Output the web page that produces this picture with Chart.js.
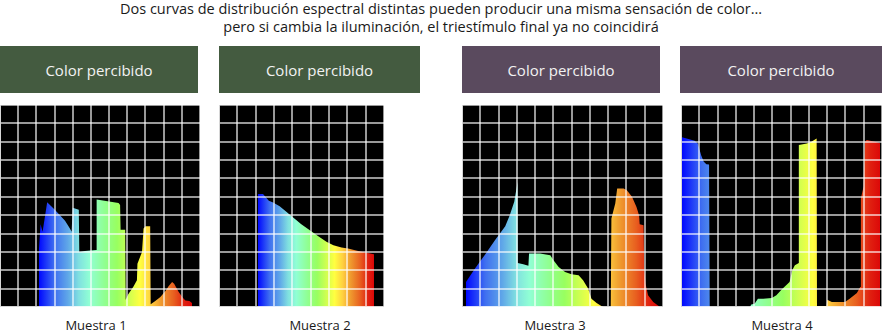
<!DOCTYPE html>
<html lang="es">
<head>
<meta charset="utf-8">
<title>Metamerismo</title>
<script src="https://cdn.jsdelivr.net/npm/chart.js@4.4.1/dist/chart.umd.min.js"></script>
<style>
  body { margin: 0; background: #fff; font-family: "Open Sans", sans-serif; }
  #lienzo { position: relative; width: 882px; height: 335px; overflow: hidden; }
  .titulo { position: absolute; left: 0; width: 882px; top: 0; text-align: center; font-size: 14.5px; line-height: 18px; color: #1a1a1a; }
  .caja { position: absolute; top: 46px; height: 47px; color: #f2f2f2; font-size: 15px; display: flex; align-items: center; justify-content: center; }
  .verde { background: #445b40; }
  .morado { background: #5a4a5e; }
  .grafico { position: absolute; top: 104px; }
  .muestra { position: absolute; top: 316px; width: 140px; margin-left: -70px; text-align: center; font-size: 13px; color: #1a1a1a; }
</style>
</head>
<body>
<div id="lienzo">
  <div class="titulo">Dos curvas de distribución espectral distintas pueden producir una misma sensación de color…<br>pero si cambia la iluminación, el triestímulo final ya no coincidirá</div>

  <div class="caja verde" style="left:0; width:198px">Color percibido</div>
  <div class="caja verde" style="left:219px; width:201px">Color percibido</div>
  <div class="caja morado" style="left:462px; width:198px">Color percibido</div>
  <div class="caja morado" style="left:680px; width:202px">Color percibido</div>

  <canvas id="g1" class="grafico" style="left:-1px" width="202" height="204"></canvas>
  <canvas id="g2" class="grafico" style="left:218px" width="167" height="204"></canvas>
  <canvas id="g3" class="grafico" style="left:461px" width="203" height="204"></canvas>
  <canvas id="g4" class="grafico" style="left:680px" width="203" height="204"></canvas>

  <div class="muestra" style="left:96px">Muestra 1</div>
  <div class="muestra" style="left:320px">Muestra 2</div>
  <div class="muestra" style="left:555px">Muestra 3</div>
  <div class="muestra" style="left:782px">Muestra 4</div>
</div>

<script>
// longitud de onda (nm) y potencia relativa de cada muestra
const nmMuestra1 = [400, 400, 403, 407, 416, 431, 441, 451, 460, 464, 466, 478, 479, 490, 512, 513, 556, 559, 560, 569, 570, 575, 585, 592, 593, 602, 605, 609, 618, 619, 628, 638, 648, 654, 661, 665, 674, 682, 687, 695, 700, 700];
const potMuestra1 = [0, 32, 45, 41, 57, 53, 50, 47, 43, 41, 54, 53, 30, 30.5, 31, 58.5, 56.7, 55.5, 42, 42, 4, 7, 11, 14.5, 23.5, 30, 42.7, 44, 44, 1.5, 3.3, 5.5, 8.7, 11.3, 13.6, 12.7, 8.2, 5.1, 3.6, 3.3, 2.2, 0];

const nmMuestra2 = [400, 400, 413, 419, 428, 439, 456, 474, 491, 512, 534, 556, 577, 595, 616, 633, 659, 681, 700, 700];
const potMuestra2 = [0, 61.5, 61.5, 60, 57.8, 56.9, 54.9, 51.8, 48.7, 45.1, 41.8, 38.5, 35.5, 33.6, 32.4, 31.8, 30.5, 29.5, 28.7, 0];

const nmMuestra3 = [400, 400, 414, 430, 445, 461, 468, 475, 479, 480, 480.5, 489, 497, 498, 515, 531, 536, 544, 554, 564, 575, 582, 590, 595, 603, 611, 614, 625, 626, 632, 635, 645, 650, 658, 665, 669, 670, 676, 677, 679, 683, 691, 700, 700];
const potMuestra3 = [0, 13.6, 20.9, 28.7, 36.4, 44, 50, 57.3, 65.5, 68.2, 24, 23.3, 22.4, 29.1, 29.1, 28.2, 25.5, 21.8, 19.1, 17.8, 17.3, 14.5, 10, 4.5, 2.2, 0.4, 0, 0, 48.2, 56.4, 64.5, 64.5, 63.6, 60, 54.5, 50, 45.1, 44.5, 21.8, 12.7, 6.4, 2.7, 0.4, 0];

const nmMuestra4 = [400, 400, 407, 419, 424, 429, 433, 437, 441, 442, 442, 503, 505, 510, 515, 523, 536, 543, 551, 563, 567, 571, 577, 577, 589, 596, 604, 604.5, 619, 620, 627, 647, 654, 665, 670, 671, 675, 677, 680, 692, 698, 700, 700];
const potMuestra4 = [0, 92.4, 91.8, 90.5, 89.1, 82.7, 79.1, 77.8, 77.6, 77.6, 0, 0, 1.3, 1.8, 4.5, 4.5, 4.9, 6.4, 9.5, 13.6, 20, 22.7, 24, 88.2, 89.1, 90, 91.8, 0.6, 0.6, 4, 2.7, 2.7, 4.5, 7.6, 10.9, 59.1, 65.5, 90, 90.9, 90, 89.5, 89.1, 0];

// colores del espectro visible, de 400 a 700 nm
const paradasEspectro = [0, 0.1, 0.19, 0.26, 0.33, 0.43, 0.51, 0.59, 0.66, 0.73, 0.79, 0.88, 0.95, 1];
const coloresEspectro = ['#0008ff', '#3f6ff0', '#60a8e8', '#80e0e0', '#90ffd4', '#90ff90', '#98ff60', '#d0ff50', '#ffff40', '#ffd040', '#f0a030', '#e86020', '#e02010', '#dc0808'];

const colorRejilla = 'rgba(255,255,255,0.6)';

// cada panel: rango del eje x (nm) y número de columnas de la rejilla
const paneles = [
  { id: 'g1', nm: nmMuestra1, pot: potMuestra1, min: 323.5, max: 715.7, columnas: 11 },
  { id: 'g2', nm: nmMuestra2, pot: potMuestra2, min: 299.1, max: 725.9, columnas: 9 },
  { id: 'g3', nm: nmMuestra3, pot: potMuestra3, min: 393.8, max: 706.2, columnas: 11 },
  { id: 'g4', nm: nmMuestra4, pot: potMuestra4, min: 398.5, max: 703.0, columnas: 11 }
];

function rellenoEspectral(context) {
  const { ctx, chartArea, scales } = context.chart;
  if (!chartArea) return null;
  const x0 = scales.x.getPixelForValue(400);
  const x1 = scales.x.getPixelForValue(700);
  const g = ctx.createLinearGradient(x0, 0, x1, 0);
  paradasEspectro.forEach((p, i) => g.addColorStop(p, coloresEspectro[i]));
  return g;
}

const fondoNegro = {
  id: 'fondoNegro',
  beforeDraw(chart) {
    const { ctx, chartArea: a } = chart;
    ctx.save();
    ctx.fillStyle = '#000';
    ctx.fillRect(a.left, a.top, a.right - a.left, a.bottom - a.top);
    ctx.restore();
  }
};

paneles.forEach(p => {
  new Chart(document.getElementById(p.id), {
    type: 'line',
    data: {
      datasets: [{
        data: p.nm.map((x, i) => ({ x: x, y: p.pot[i] })),
        fill: 'origin',
        backgroundColor: rellenoEspectral,
        borderWidth: 0,
        pointRadius: 0,
        tension: 0
      }]
    },
    options: {
      responsive: false,
      animation: false,
      events: [],
      layout: { padding: 1 },
      plugins: { legend: { display: false }, tooltip: { enabled: false } },
      scales: {
        x: {
          type: 'linear',
          bounds: 'data',
          min: p.min,
          max: p.max,
          afterBuildTicks: scale => {
            const paso = (p.max - p.min) / p.columnas;
            scale.ticks = Array.from({ length: p.columnas + 1 }, (_, i) => ({ value: p.min + i * paso }));
          },
          ticks: { display: false },
          grid: { color: colorRejilla, lineWidth: 2, drawTicks: false, tickLength: 0, z: 1 },
          border: { display: true, color: colorRejilla, width: 2, z: 1 }
        },
        y: {
          min: 0,
          max: 110,
          ticks: { display: false, stepSize: 10 },
          grid: { color: colorRejilla, lineWidth: 2, drawTicks: false, tickLength: 0, z: 1 },
          border: { display: true, color: colorRejilla, width: 2, z: 1 }
        }
      }
    },
    plugins: [fondoNegro]
  });
});
</script>
</body>
</html>
